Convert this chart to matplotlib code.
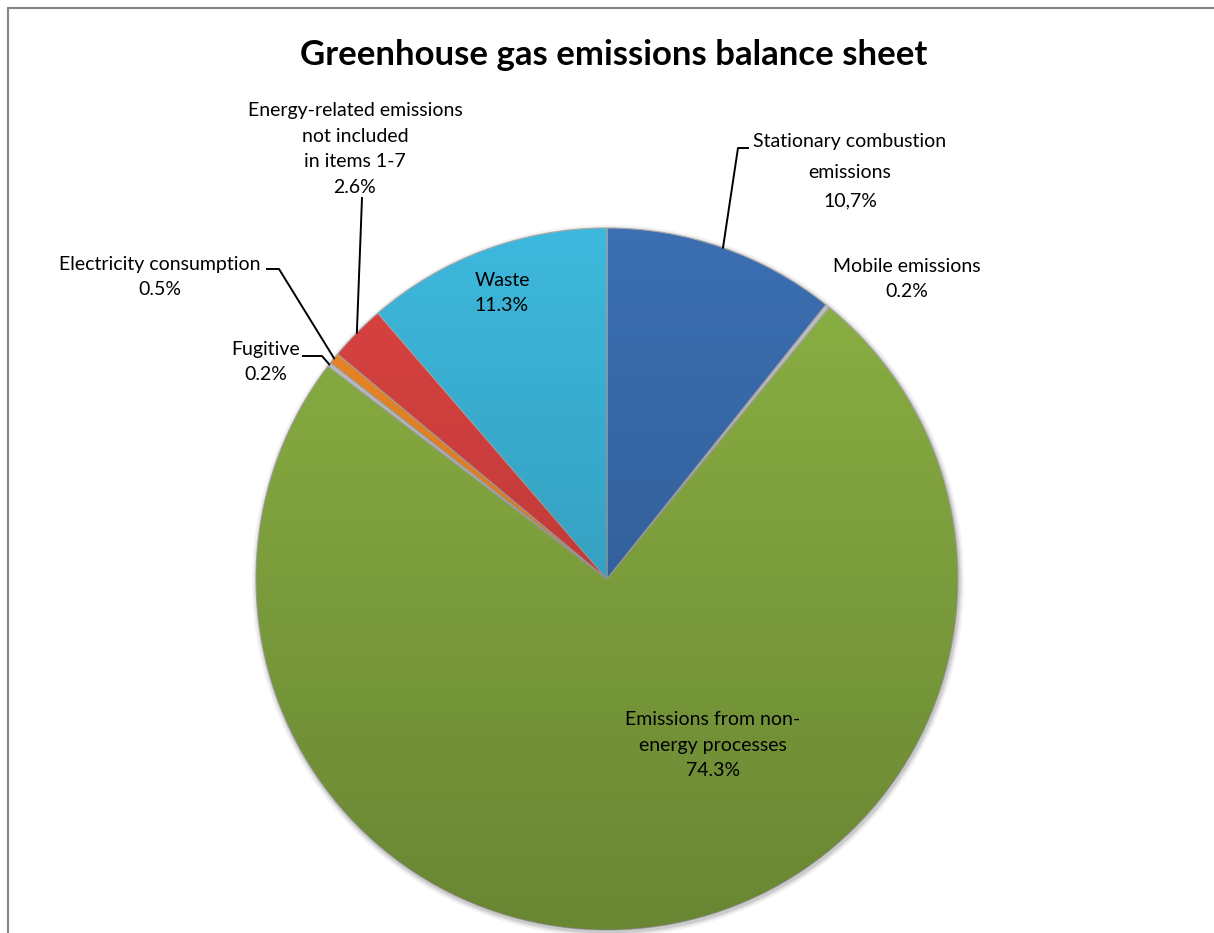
import numpy as np
import matplotlib.pyplot as plt
from matplotlib.patches import Rectangle, Circle

plt.rcParams['font.family'] = ['Lato', 'DejaVu Sans']

# Slices, clockwise from 12 o'clock
labels = ['Stationary combustion\nemissions\n10,7%', 'Mobile emissions\n0.2%',
          'Emissions from non-\nenergy processes\n74.3%', 'Fugitive\n0.2%',
          'Electricity consumption\n0.5%',
          'Energy-related emissions\nnot included\nin items 1-7\n2.6%',
          'Waste\n11.3%']
shares = [10.7, 0.2, 74.3, 0.2, 0.5, 2.6, 11.3]
colors = ['#3B6FB2', '#C4C4C4', '#8CB244', '#C4C4C4', '#F08A28', '#DC4342', '#3DB8DC']

W, H = 1214, 933
fig = plt.figure(figsize=(W / 100, H / 100), dpi=100)
ax = fig.add_axes([0, 0, 1, 1])

cx, cy, r = 607, H - 579, 351

# soft shadow under the pie
for k, a in [(5, 0.05), (3, 0.07), (1.5, 0.09)]:
    ax.add_patch(Circle((cx + 1, cy - 2), r + k, color='black', alpha=a, lw=0, zorder=0))

wedges, _ = ax.pie(shares, colors=colors, startangle=90, counterclock=False,
                   center=(cx, cy), radius=r, frame=True,
                   wedgeprops=dict(edgecolor='#A8A8A8', linewidth=0.8))

# darker toward the bottom, like the original shading
shade = np.zeros((256, 1, 4))
shade[:, 0, 3] = np.linspace(0.25, 0.0, 256)
for w in wedges:
    img = ax.imshow(shade, extent=[cx - r, cx + r, cy - r, cy + r], origin='lower',
                    zorder=w.get_zorder() + 0.5, aspect='auto')
    img.set_clip_path(w)

ax.set_xlim(0, W)
ax.set_ylim(0, H)
ax.set_aspect('equal')
ax.axis('off')


def edge_point(i):
    w = wedges[i]
    a = np.deg2rad((w.theta1 + w.theta2) / 2)
    return cx + r * np.cos(a), cy + r * np.sin(a)


def y(p):
    return H - p


fs = 14
ls = 1.6
lead = dict(color='black', lw=1.4, zorder=5)

# Stationary combustion
ex, ey = edge_point(0)
ax.plot([ex, 738, 748], [ey, y(148), y(148)], **lead)
ax.text(850, y(142), 'Stationary combustion', ha='center', va='center', fontsize=fs)
ax.text(850, y(172), 'emissions', ha='center', va='center', fontsize=fs)
ax.text(850, y(201), '10,7%', ha='center', va='center', fontsize=fs)

# Mobile emissions
ax.text(907, y(279), labels[1], ha='center', va='center', fontsize=fs, linespacing=ls)

# Non-energy processes (inside)
ax.text(713, y(745), labels[2], ha='center', va='center', fontsize=fs, linespacing=ls, zorder=6)

# Waste (inside)
ax.text(502, y(293), labels[6], ha='center', va='center', fontsize=fs, linespacing=ls, zorder=6)

# Fugitive
ex, ey = edge_point(3)
ax.plot([ex, 322, 303], [ey, y(356), y(356)], **lead)
ax.text(266, y(362), labels[3], ha='center', va='center', fontsize=fs, linespacing=ls)

# Electricity consumption
ex, ey = edge_point(4)
ax.plot([ex, 279, 267], [ey, y(269), y(269)], **lead)
ax.text(160, y(277), labels[4], ha='center', va='center', fontsize=fs, linespacing=ls)

# Energy-related emissions
ex, ey = edge_point(5)
ax.plot([ex, 362], [ey, y(198)], **lead)
ax.text(355, y(149), labels[5], ha='center', va='center', fontsize=fs, linespacing=ls)

ax.text(614, y(55), 'Greenhouse gas emissions balance sheet', ha='center', va='center',
        fontsize=25, fontweight='bold')

ax.add_patch(Rectangle((8, -20), W + 20, H - 8 + 20, fill=False,
                       edgecolor='#858585', lw=1.5, clip_on=False))

fig.savefig('out.png', dpi=100)
